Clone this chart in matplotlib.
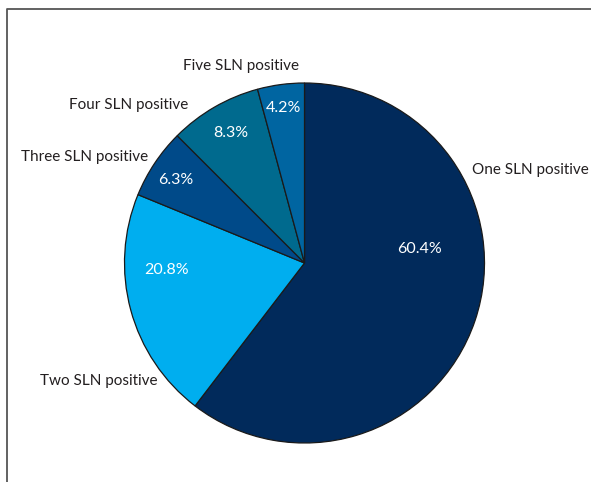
import matplotlib.pyplot as plt
from matplotlib.lines import Line2D
from matplotlib import font_manager

categories = ['One SLN positive', 'Two SLN positive', 'Three SLN positive',
              'Four SLN positive', 'Five SLN positive']
shares = [60.4, 20.8, 6.3, 8.3, 4.2]
colors = ['#012a5b', '#00aeef', '#004a89', '#006a8e', '#0065a1']

# label anchors in pixel space (x, y from top), plus alignment
label_pos = [(472, 170, 'left'), (157, 381, 'right'), (148, 157, 'right'),
             (188, 105, 'right'), (241, 66, 'center')]
pct_pos = [(420, 249), (167, 270), (176, 180), (231, 133), (283, 108)]

names = sorted({f.name + '|' + str(f.stretch) for f in font_manager.fontManager.ttflist})
print(names)

plt.rcParams['font.family'] = ['Lato', 'DejaVu Sans']

W, H = 591, 482
fig = plt.figure(figsize=(W / 100, H / 100), dpi=100)
ax = fig.add_axes([0, 0, 1, 1])

cx, cy, r = 304.5, H - 263, 180
ax.pie(shares, colors=colors, startangle=90, counterclock=False,
       center=(cx, cy), radius=r, frame=True,
       wedgeprops=dict(edgecolor='#1a1a1a', linewidth=0.9))
ax.set_xlim(0, W)
ax.set_ylim(0, H)
ax.set_aspect('auto')
ax.axis('off')

for name, (x, y, ha) in zip(categories, label_pos):
    ax.text(x, H - y, name, ha=ha, va='center', fontsize=11, color='#231f20')

for val, (x, y) in zip(shares, pct_pos):
    ax.text(x, H - y, f'{val:.1f}%', ha='center', va='center',
            fontsize=11.5, color='white')

# outer frame (top and left edges)
ax.add_line(Line2D([7, 7, W], [0, H - 9, H - 9], color='#555555', linewidth=1.3))

fig.savefig('out.png', dpi=100)
